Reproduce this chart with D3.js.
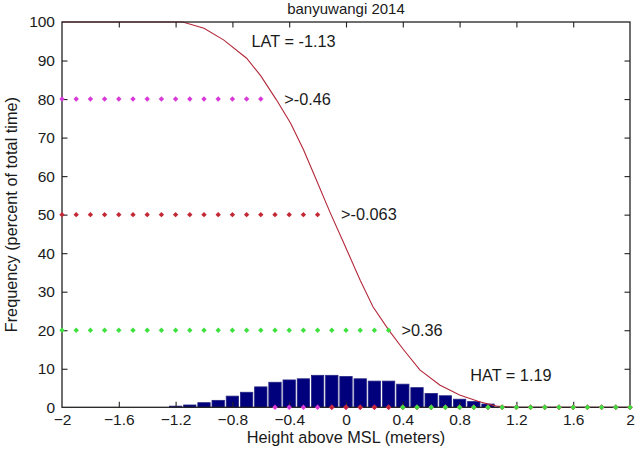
<!DOCTYPE html>
<html>
<head>
<meta charset="utf-8">
<script src="https://cdn.jsdelivr.net/npm/d3@7"></script>
<style>
  body { margin: 0; background: #fff; }
  svg text { font-family: "Liberation Sans", Arial, sans-serif; fill: #1a1a1a; }
</style>
</head>
<body>
<script>
// ---------- data ----------
const chartTitle = "banyuwangi 2014";
const xLabel = "Height above MSL (meters)";
const yLabel = "Frequency (percent of total time)";

const xTicks = [-2, -1.6, -1.2, -0.8, -0.4, 0, 0.4, 0.8, 1.2, 1.6, 2];
const yTicks = [0, 10, 20, 30, 40, 50, 60, 70, 80, 90, 100];

// histogram (percent of time per 0.1 m bin)
const binCenters = [-1.2, -1.1, -1.0, -0.9, -0.8, -0.7, -0.6, -0.5, -0.4, -0.3, -0.2, -0.1,
                    0, 0.1, 0.2, 0.3, 0.4, 0.5, 0.6, 0.7, 0.8, 0.9, 1.0];
const binFreq = [0.3, 0.6, 1.2, 1.8, 2.9, 3.9, 5.3, 6.5, 7.1, 7.4, 8.3, 8.3,
                 8.0, 7.4, 6.8, 6.8, 6.0, 5.1, 3.6, 3.0, 2.1, 1.5, 0.85];

// exceedance curve
const curveX = [-2, -1.15, -1.0, -0.86, -0.7, -0.6, -0.49, -0.39, -0.3, -0.21, -0.11, -0.03,
                0.1, 0.19, 0.3, 0.4, 0.52, 0.66, 0.8, 0.94, 1.06, 1.2, 2];
const curveY = [100, 100, 98.4, 95.3, 90.6, 86.0, 79.8, 73.7, 66.9, 59.1, 50.4, 43.8,
                33.0, 26.1, 20.1, 15.2, 9.7, 5.8, 3.2, 1.45, 0.3, 0, 0];

// dotted threshold lines
const dotX = [-2, -1.9, -1.8, -1.7, -1.6, -1.5, -1.4, -1.3, -1.2, -1.1, -1.0, -0.9, -0.8, -0.7,
              -0.6, -0.5, -0.4, -0.3, -0.2, -0.1, 0, 0.1, 0.2, 0.3, 0.4, 0.5, 0.6, 0.7, 0.8,
              0.9, 1.0, 1.1, 1.2, 1.3, 1.4, 1.5, 1.6, 1.7, 1.8, 1.9, 2];
const levelValues = [80, 50, 20];
const levelCuts = [-0.6, -0.2, 0.3];        // last x still on the level line
const levelLabels = [">-0.46", ">-0.063", ">0.36"];
const levelLabelX = [-0.435, -0.035, 0.39];
const levelColors = ["#d83ad8", "#c32834", "#3ee03e"];

const tideLabels = ["LAT = -1.13", "HAT = 1.19"];
const tideLabelX = [-0.665, 0.875];
const tideLabelY = [95, 8.4];

// ---------- setup ----------
const W = 638, H = 450;
const plot = {left: 62, right: 630, top: 22, bottom: 407.3};

const svg = d3.select("body").append("svg")
    .attr("width", W)
    .attr("height", H);

const x = d3.scaleLinear().domain([-2, 2]).range([plot.left, plot.right]);
const y = d3.scaleLinear().domain([0, 100]).range([plot.bottom, plot.top]);

const tickFont = 15.5;
const textFont = 16.3;

// ---------- histogram ----------
const binW = 0.087;
svg.append("g").selectAll("rect")
    .data(binCenters)
    .join("rect")
    .attr("x", (d) => x(d - binW / 2))
    .attr("width", (d) => x(d + binW / 2) - x(d - binW / 2))
    .attr("y", (d, i) => y(binFreq[i]))
    .attr("height", (d, i) => y(0) - y(binFreq[i]))
    .attr("fill", "#00007c")
    .attr("stroke", "#262684")
    .attr("stroke-width", 0.8);

// ---------- exceedance curve ----------
const line = d3.line()
    .x((d) => x(d[0]))
    .y((d) => y(d[1]));

svg.append("path")
    .datum(curveX.map((d, i) => [d, curveY[i]]))
    .attr("d", line)
    .attr("fill", "none")
    .attr("stroke", "#b3283a")
    .attr("stroke-width", 1.1);

// ---------- axes box ----------
const tickLen = 5.5;
const axisColor = "#222";

svg.append("rect")
    .attr("x", plot.left)
    .attr("y", plot.top)
    .attr("width", plot.right - plot.left)
    .attr("height", plot.bottom - plot.top)
    .attr("fill", "none")
    .attr("stroke", axisColor)
    .attr("stroke-width", 1.3);

const xAxisG = svg.append("g")
    .attr("transform", `translate(0,${plot.bottom})`)
    .call(d3.axisBottom(x).tickValues(xTicks).tickSize(-tickLen).tickPadding(6.5).tickFormat(d3.format("")));
const xTopG = svg.append("g")
    .attr("transform", `translate(0,${plot.top})`)
    .call(d3.axisTop(x).tickValues(xTicks).tickSize(-tickLen).tickFormat(""));
const yAxisG = svg.append("g")
    .attr("transform", `translate(${plot.left},0)`)
    .call(d3.axisLeft(y).tickValues(yTicks).tickSize(-tickLen).tickPadding(7));
const yRightG = svg.append("g")
    .attr("transform", `translate(${plot.right},0)`)
    .call(d3.axisRight(y).tickValues(yTicks).tickSize(-tickLen).tickFormat(""));

[xAxisG, xTopG, yAxisG, yRightG].forEach((g) => {
    g.select(".domain").remove();
    g.selectAll(".tick line").attr("stroke", axisColor).attr("stroke-width", 1.1);
    g.selectAll(".tick text")
        .style("font-size", tickFont + "px")
        .style("font-family", "'Liberation Sans', Arial, sans-serif")
        .attr("fill", "#1a1a1a");
});
// the end ticks sit on the box itself
xAxisG.selectAll(".tick line").filter((d) => d === -2 || d === 2).remove();
xTopG.selectAll(".tick line").filter((d) => d === -2 || d === 2).remove();
yAxisG.selectAll(".tick line").filter((d) => d === 0 || d === 100).remove();
yRightG.selectAll(".tick line").filter((d) => d === 0 || d === 100).remove();

// ---------- threshold dots ----------
const diamond = "M0,-2.7L2.7,0L0,2.7L-2.7,0Z";
levelValues.forEach((lev, k) => {
    svg.append("g").selectAll("path")
        .data(dotX)
        .join("path")
        .attr("d", diamond)
        .attr("transform", (d) => `translate(${x(d)},${y(d <= levelCuts[k] + 1e-9 ? lev : 0)})`)
        .attr("fill", levelColors[k]);
});

// ---------- annotations ----------
svg.selectAll(".level-label")
    .data(levelLabels)
    .join("text")
    .attr("class", "level-label")
    .attr("x", (d, i) => x(levelLabelX[i]))
    .attr("y", (d, i) => y(levelValues[i]))
    .attr("dy", "0.35em")
    .style("font-size", textFont + "px")
    .text((d) => d);

svg.selectAll(".tide-label")
    .data(tideLabels)
    .join("text")
    .attr("class", "tide-label")
    .attr("x", (d, i) => x(tideLabelX[i]))
    .attr("y", (d, i) => y(tideLabelY[i]))
    .attr("dy", "0.35em")
    .style("font-size", textFont + "px")
    .text((d) => d);

// ---------- titles ----------
svg.append("text")
    .attr("x", (plot.left + plot.right) / 2)
    .attr("y", 14)
    .attr("text-anchor", "middle")
    .style("font-size", "15px")
    .text(chartTitle);

svg.append("text")
    .attr("x", (plot.left + plot.right) / 2)
    .attr("y", 443)
    .attr("text-anchor", "middle")
    .style("font-size", textFont + "px")
    .text(xLabel);

svg.append("text")
    .attr("transform", `translate(17,${(plot.top + plot.bottom) / 2}) rotate(-90)`)
    .attr("text-anchor", "middle")
    .style("font-size", textFont + "px")
    .text(yLabel);
</script>
</body>
</html>
